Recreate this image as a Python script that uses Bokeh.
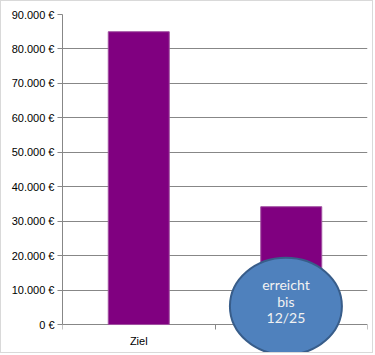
from bokeh.plotting import figure
from bokeh.models import FixedTicker, Range1d, ColumnDataSource
from bokeh.core.properties import value
from bokeh.embed import file_html
from bokeh.resources import INLINE

categories = ["Ziel", ""]
amounts = [85000, 34200]
y_ticks = [0, 10000, 20000, 30000, 40000, 50000, 60000, 70000, 80000, 90000]
y_tick_labels = ["0 €", "10.000 €", "20.000 €", "30.000 €", "40.000 €",
                 "50.000 €", "60.000 €", "70.000 €", "80.000 €", "90.000 €"]
note_text = "erreicht\nbis\n12/25"

xs = [i + 0.5 for i in range(len(categories))]
src = ColumnDataSource(dict(x=xs, top=amounts))

p = figure(width=373, height=353, output_backend="svg", toolbar_location=None,
           x_range=Range1d(0, len(categories)), y_range=Range1d(-8700, 90000),
           min_border_left=61, min_border_right=7, min_border_top=13, min_border_bottom=0)
p.styles = {"border": "1px solid #D9D9D9"}
p.outline_line_color = None
p.background_fill_color = "white"
p.border_fill_color = "white"

p.vbar(x="x", top="top", width=0.4, bottom=0, source=src,
       fill_color="#800080", line_color="#A050A0", line_width=1)

# annotation ellipse attached to the second category
p.ellipse(x=[xs[1] - 0.035], y=[5300], width=[112], height=[97],
          width_units="screen", height_units="screen",
          fill_color="#4F81BD", line_color="#385D8A", line_width=2)
p.text(x=[xs[1] - 0.035], y=[6800], text=[note_text], text_align="center",
       text_baseline="middle", text_color="#F2F2F2", text_font=value("Lato"),
       text_font_size="14px", text_line_height=0.95)

# y axis
p.yaxis.ticker = FixedTicker(ticks=y_ticks)
p.yaxis.major_label_overrides = {t: l for t, l in zip(y_ticks, y_tick_labels)}
p.yaxis.bounds = (0, 90000)
p.yaxis.axis_line_color = "#878787"
p.yaxis.major_tick_line_color = "#878787"
p.yaxis.major_tick_out = 5
p.yaxis.major_tick_in = 0
p.yaxis.minor_tick_line_color = None
p.yaxis.major_label_text_font = "Liberation Sans"
p.yaxis.major_label_text_font_size = "11px"
p.yaxis.major_label_text_color = "black"
p.yaxis.major_label_standoff = 3

# x axis at y=0
p.xaxis.fixed_location = 0
p.xaxis.ticker = FixedTicker(ticks=xs, minor_ticks=list(range(len(categories) + 1)))
p.xaxis.major_label_overrides = {x: c for x, c in zip(xs, categories)}
p.xaxis.bounds = (0, len(categories))
p.xaxis.axis_line_color = "#878787"
p.xaxis.major_tick_line_color = None
p.xaxis.minor_tick_line_color = "#878787"
p.xaxis.minor_tick_out = 5
p.xaxis.minor_tick_in = 0
p.xaxis.major_label_text_font = "Liberation Sans"
p.xaxis.major_label_text_font_size = "11px"
p.xaxis.major_label_text_color = "black"
p.xaxis.major_label_standoff = 4
p.xaxis.level = "underlay"

p.xgrid.grid_line_color = None
p.ygrid.ticker = FixedTicker(ticks=y_ticks[1:])
p.ygrid.grid_line_color = "#878787"
p.ygrid.bounds = (0, 90000)

open("out.html", "w").write(file_html(p, INLINE))
